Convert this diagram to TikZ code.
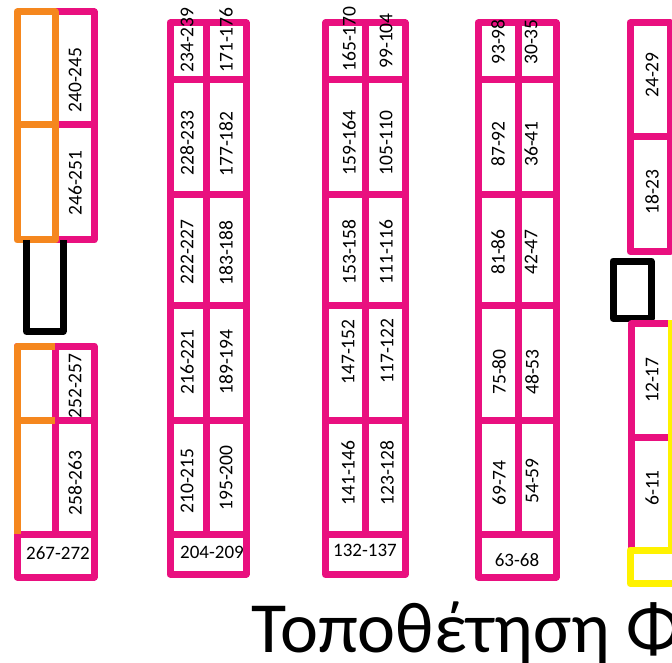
\documentclass[tikz,border=0pt]{standalone}
\usepackage{fontspec}
\setmainfont{Carlito}
\definecolor{pk}{RGB}{233,16,127}
\definecolor{og}{RGB}{245,135,30}
\definecolor{yl}{RGB}{255,242,0}
\begin{document}
\begin{tikzpicture}[x=1pt,y=-1pt,line join=round,
  wall/.style={line width=7pt},
  lab/.style={rotate=90,inner sep=0pt,font=\fontsize{19.5}{19.5}\selectfont},
  hlab/.style={inner sep=0pt,font=\fontsize{19}{19}\selectfont},
  title/.style={inner sep=0pt,anchor=base west,font=\fontsize{72}{72}\selectfont}]
\useasboundingbox (0,0) rectangle (672,663);
\clip (0,0) rectangle (672,663);
\fill[white] (0,0) rectangle (672,663);
% ---- column 1 top
\draw[wall,pk] (55,12) -- (94,12) -- (94,240) -- (55,240);
\draw[wall,pk] (55,125) -- (94,125);
\draw[wall,og] (17,12) rectangle (55,240);
\draw[wall,og] (17,125) -- (55,125);
% black U
\draw[wall,black] (26.5,240) -- (26.5,331.5) -- (63,331.5) -- (63,240);
% ---- column 1 bottom
\draw[wall,pk] (17,346) rectangle (94,577);
\draw[wall,pk] (55,346) -- (55,534);
\draw[wall,pk] (55,420) -- (94,420);
\draw[wall,pk] (17,534) -- (94,534);
\draw[wall,og] (17,534) -- (17,346) -- (55,346);
\draw[wall,og] (17,420) -- (55,420);
% ---- columns 2-4
\foreach \l/\m/\r/\b in {170/206.5/246/574, 325.5/365.5/405/574.5, 478/518/556/577}{
  \draw[wall,pk] (\l,23) rectangle (\r,\b);
  \draw[wall,pk] (\m,23) -- (\m,534);
  \foreach \h in {80,195,305,420,534} \draw[wall,pk] (\l,\h) -- (\r,\h);
}
% ---- column 5
\draw[wall,pk] (630,23) rectangle (670,251.5);
\draw[wall,pk] (630,136.5) -- (670,136.5);
\draw[wall,black] (613,261) rectangle (651,318.5);
\draw[wall,pk] (668,323.5) -- (631.5,323.5) -- (631.5,550);
\draw[wall,pk] (631.5,437) -- (668,437);
\draw[line width=4pt,yl] (670,320) -- (670,550);
\draw[wall,yl] (630,550) rectangle (700,583.5);
% ---- labels
\node[lab] (a1) at (75,80) {240-245};
\node[lab] (a2) at (75,183) {246-251};
\node[lab] (a3) at (75,386) {252-257};
\node[lab] (a4) at (75,483) {258-263};
\node[hlab] (a5) at (58,553) {267-272};
\node[lab] (b1) at (187,40) {234-239};
\node[lab] (b2) at (187,143) {228-233};
\node[lab] (b3) at (187,252) {222-227};
\node[lab] (b4) at (187,362) {216-221};
\node[lab] (b5) at (187,481) {210-215};
\node[lab] (c1) at (226,40) {171-176};
\node[lab] (c2) at (226,144) {177-182};
\node[lab] (c3) at (226,253) {183-188};
\node[lab] (c4) at (226,362) {189-194};
\node[lab] (c5) at (226,478) {195-200};
\node[hlab] (b6) at (212,552) {204-209};
\node[lab] (d1) at (349,39) {165-170};
\node[lab] (d2) at (349,143) {159-164};
\node[lab] (d3) at (349,252) {153-158};
\node[lab] (d4) at (348,352) {147-152};
\node[lab] (d5) at (348,473) {141-146};
\node[lab] (e1) at (386,41) {99-104};
\node[lab] (e2) at (386,143) {105-110};
\node[lab] (e3) at (386,252) {111-116};
\node[lab] (e4) at (387,351) {117-122};
\node[lab] (e5) at (387,473) {123-128};
\node[hlab] (d6) at (365,550) {132-137};
\node[lab] (f1) at (498,42) {93-98};
\node[lab] (f2) at (498,144) {87-92};
\node[lab] (f3) at (498,252) {81-86};
\node[lab] (f4) at (499,372) {75-80};
\node[lab] (f5) at (499,483) {69-74};
\node[lab] (g1) at (531,42) {30-35};
\node[lab] (g2) at (531,144) {36-41};
\node[lab] (g3) at (531,252) {42-47};
\node[lab] (g4) at (532,372) {48-53};
\node[lab] (g5) at (532,481) {54-59};
\node[hlab] (f6) at (517,560) {63-68};
\node[lab] (h1) at (652,75) {24-29};
\node[lab] (h2) at (652,192) {18-23};
\node[lab] (h3) at (652,380) {12-17};
\node[lab] (h4) at (652,488) {6-11};
% ---- title
\node[title] (ttl) at (251,652) {Τοποθέτηση Φ};
\end{tikzpicture}
\end{document}
